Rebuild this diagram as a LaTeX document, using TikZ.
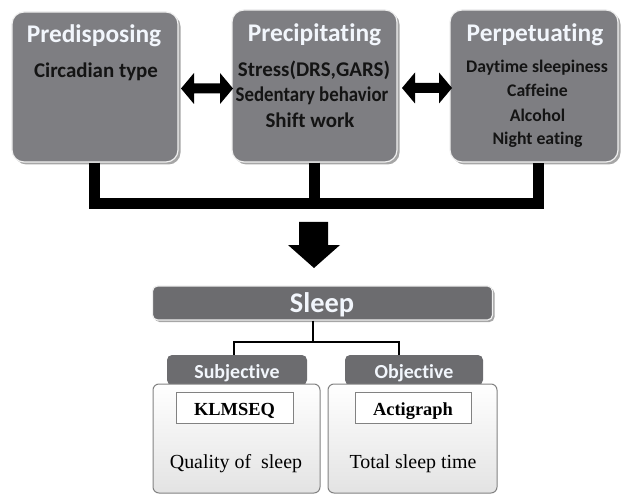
\documentclass[tikz,border=0pt]{standalone}
\usepackage{fontspec}
\setmainfont{Carlito}[Ligatures={NoCommon}]
\newfontfamily\serifface{Liberation Serif}
\usetikzlibrary{shadows}
\definecolor{topgray}{RGB}{126,126,130}
\definecolor{darkgray2}{RGB}{108,108,111}
\definecolor{headtxt}{RGB}{242,246,252}
\definecolor{edgegray}{RGB}{130,130,130}
\tikzset{
  bigbox/.style={draw=white!88!gray, line width=1.2bp, fill=topgray, rounded corners=12bp,
    drop shadow={shadow xshift=2.5bp, shadow yshift=-2.5bp, fill=black, opacity=0.35}},
  barbox/.style={draw=white!88!gray, line width=1.2bp, fill=darkgray2, rounded corners=5bp,
    drop shadow={shadow xshift=2bp, shadow yshift=-2bp, fill=black, opacity=0.35}},
  tabbox/.style={fill=darkgray2, rounded corners=5bp},
  lowbox/.style={draw=edgegray, line width=1bp, rounded corners=6bp, top color=white, bottom color=gray!22},
  inbox/.style={draw=edgegray, line width=0.8bp, fill=white},
  head/.style={anchor=base, inner sep=0pt, text=headtxt, font=\bfseries\fontsize{25.5}{28}\selectfont},
  item/.style={anchor=base, inner sep=0pt, text=black!92, font=\bfseries\fontsize{21}{24}\selectfont},
  itemr/.style={anchor=base, inner sep=0pt, text=black!92, font=\bfseries\fontsize{17.8}{20}\selectfont},
  tabtxt/.style={anchor=base, inner sep=0pt, text=headtxt, font=\bfseries\fontsize{20}{24}\selectfont},
  sertxt/.style={anchor=base, inner sep=0pt, text=black, font=\serifface\fontsize{20}{24}\selectfont},
  serbold/.style={anchor=base, inner sep=0pt, text=black, font=\serifface\bfseries\fontsize{18.5}{21}\selectfont},
  heavy/.style={line width=11bp, line join=miter, black},
  thinline/.style={line width=2bp, black},
  fatarrow/.style={fill=black}
}
\begin{document}
\begin{tikzpicture}[x=1bp,y=-1bp]
\useasboundingbox (0,0) rectangle (622,495);
% top boxes
\node[bigbox, minimum width=166bp, minimum height=150bp] (pred) at (95,87) {};
\node[bigbox, minimum width=165bp, minimum height=152bp] (prec) at (314.5,86) {};
\node[bigbox, minimum width=168bp, minimum height=152bp] (perp) at (534,86) {};
% texts
\node[head] (predh) at (94,43) {Predisposing};
\node[item] (circ) at (96,78) {Circadian type};
\node[head] (prech) at (314.5,42) {Precipitating};
\node[item] (stress) at (314,77) {Stress(DRS,GARS)};
\node[item] (sed) at (312,102) {\scalebox{0.9}[1]{Sedentary behavior}};
\node[item] (shift) at (310,128) {Shift work};
\node[head] (perph) at (535,42) {Perpetuating};
\node[itemr] (day) at (537,73) {Daytime sleepiness};
\node[itemr] (caf) at (537.5,97) {Caffeine};
\node[itemr] (alc) at (537.5,122) {Alcohol};
\node[itemr] (night) at (537.5,145) {Night eating};
% double arrows
\fill[fatarrow] (181,88.5) -- (194,73) -- (194,83.5) -- (220,83.5) -- (220,73) -- (233,88.5)
  -- (220,104) -- (220,93.5) -- (194,93.5) -- (194,104) -- cycle;
\fill[fatarrow] (402,88) -- (415,72.5) -- (415,83) -- (439,83) -- (439,72.5) -- (452,88)
  -- (439,103.5) -- (439,93) -- (415,93) -- (415,103.5) -- cycle;
% bracket
\coordinate (bar) at (0,204);
\draw[heavy] ([xshift=-1bp]pred.south) |- ([xshift=4bp]perp.south |- bar) -- ([xshift=4bp]perp.south);
\draw[heavy] (prec.south) -- (prec.south |- bar);
% down arrow
\fill[fatarrow] (299,222) -- (328,222) -- (328,245) -- (340,245) -- (314,268) -- (288,245) -- (299,245) -- cycle;
% sleep bar
\node[barbox, minimum width=340bp, minimum height=34bp] (sleep) at (322.5,303) {};
\node[head, font=\bfseries\fontsize{28.5}{32}\selectfont] (sleept) at (322,312) {Sleep};
% tabs
\node[tabbox, minimum width=140bp, minimum height=30bp] (subtab) at (237,370) {};
\node[tabbox, minimum width=138bp, minimum height=30bp] (objtab) at (414,370) {};
% connector
\coordinate (j) at (313,342);
\draw[thinline] (sleep.south -| j) -- (j);
\draw[thinline] (subtab.north -| 234,0) |- (j) -| (objtab.north -| 399,0);
% lower boxes
\node[lowbox, minimum width=167bp, minimum height=109bp] (subbox) at (236.5,438.5) {};
\node[lowbox, minimum width=169bp, minimum height=109bp] (objbox) at (412.5,438.5) {};
\node[tabtxt] (subt) at (237,378) {Subjective};
\node[tabtxt] (objt) at (414,378) {Objective};
\node[inbox, minimum width=117bp, minimum height=31bp] (klm) at (234.5,407.5) {};
\node[inbox, minimum width=116bp, minimum height=31bp] (acti) at (413,407.5) {};
\node[serbold] (klmt) at (234.5,415) {KLMSEQ};
\node[serbold] (actit) at (413,415) {Actigraph};
\node[sertxt] (qual) at (236,468) {Quality of~ sleep};
\node[sertxt] (tot) at (413,468) {Total sleep time};
\end{tikzpicture}
\end{document}
